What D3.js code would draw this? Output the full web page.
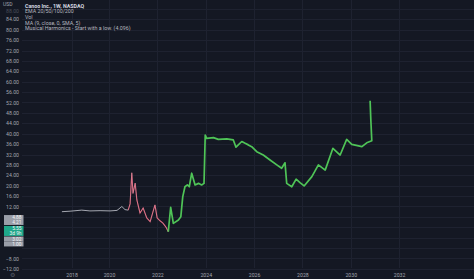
<!DOCTYPE html>
<html>
<head>
<meta charset="utf-8">
<script src="https://cdn.jsdelivr.net/npm/d3@7/dist/d3.min.js"></script>
<style>
  html, body { margin: 0; padding: 0; background: #141823; }
  svg { display: block; }
  text { font-family: Roboto, "Liberation Sans", sans-serif; }
</style>
</head>
<body>
<svg id="chart" width="474" height="279"></svg>
<script>
// price history (decimal year, close)
const priceYears = [2018.05, 2018.39, 2018.87, 2019.21, 2019.63, 2020.04, 2020.33, 2020.53, 2020.66, 2020.79,
  2020.87, 2020.94, 2020.99, 2021.08, 2021.15, 2021.28, 2021.41, 2021.56, 2021.70, 2021.90,
  2021.99, 2022.11, 2022.23, 2022.36, 2022.45];
const priceValues = [10, 10.2, 10.6, 10.3, 10.4, 10.3, 10.5, 12, 10.8, 10.6,
  13, 25, 17, 21, 14.5, 9.5, 11.4, 7.6, 6.2, 12.6,
  7.6, 6.5, 5.6, 4, 2.3];
// harmonics projection
const projYears = [2022.45, 2022.55, 2022.66, 2022.87, 2022.97, 2023.05, 2023.14, 2023.24, 2023.32, 2023.42,
  2023.56, 2023.70, 2023.83, 2023.93, 2023.98, 2024.04, 2024.32, 2024.52, 2024.87, 2025.14,
  2025.25, 2025.49, 2025.63, 2025.76, 2025.90, 2026.11, 2026.38, 2026.66, 2026.94, 2027.14,
  2027.28, 2027.35, 2027.56, 2027.74, 2027.90, 2028.07, 2028.39, 2028.66, 2028.94, 2029.26,
  2029.56, 2029.83, 2030.04, 2030.46, 2030.66, 2030.87, 2030.83, 2030.80];
const projValues = [2.3, 11.7, 5.5, 6.8, 8.1, 15.8, 19.6, 20.3, 19.6, 24.8,
  20.3, 20.9, 20.3, 20.9, 39.5, 38.2, 38.5, 37.8, 38, 37.6,
  34.8, 37, 36.3, 35.7, 35, 33.1, 31.8, 29.9, 28, 26.7,
  28.8, 20.9, 19.6, 22.5, 21.2, 19.9, 23.5, 28, 26, 34.4,
  31.8, 37.8, 35.9, 35, 36.5, 37.3, 45.3, 52.7];

const xTickYears = [2018.45, 2020, 2022, 2024, 2026, 2028, 2030, 2032];
const xTickLabels = ["2018", "2020", "2022", "2024", "2026", "2028", "2030", "2032"];
const yTicks = [88, 84, 80, 76, 72, 68, 64, 60, 56, 52, 48, 44, 40, 36, 32, 28, 24, 20, 16, 12, -8, -12];
const legendLines = ["Canoo Inc., 1W, NASDAQ", "EMA 20/50/100/200", "Vol", "MA (9, close, 0, SMA, 5)",
  "Musical Harmonics - Start with a low. (4.096)"];
// axis price tags: where they sit on the scale, and their text
const tagValues = [7.75, 5.85, 2.6, -0.5, -2.4];
const tagTexts = ["4.88", "4.21", "5.55", "3.02", "1.00"];

const svg = d3.select("#chart");
const W = 474, H = 279;

function yearToDate(y) {
  const yr = Math.floor(y);
  const start = new Date(yr, 0, 1), end = new Date(yr + 1, 0, 1);
  return new Date(start.getTime() + (y - yr) * (end - start));
}

const x = d3.scaleTime()
  .domain([new Date(2018, 0, 1), new Date(2032, 0, 1)])
  .range([60.7, 399.1]);
const y = d3.scaleLinear().domain([-12, 88]).range([268.9, 8.9]);

svg.append("rect").attr("width", W).attr("height", H).attr("fill", "#141823");

// grid
const grid = svg.append("g").attr("stroke", "#1e2230").attr("stroke-width", 1);
grid.selectAll("line.v").data(xTickYears).enter().append("line")
  .attr("x1", d => Math.round(x(yearToDate(d))) + 0.5)
  .attr("x2", d => Math.round(x(yearToDate(d))) + 0.5)
  .attr("y1", 0).attr("y2", 268);
grid.selectAll("line.h").data(d3.range(-12, 92, 4)).enter().append("line")
  .attr("x1", 22).attr("x2", W)
  .attr("y1", d => Math.round(y(d)) + 0.5)
  .attr("y2", d => Math.round(y(d)) + 0.5);

// y axis labels
const yAxis = d3.axisLeft(y).tickValues(yTicks).tickSize(0).tickFormat(d3.format(".2f"));
const yg = svg.append("g").attr("transform", "translate(19,0)").call(yAxis);
yg.select(".domain").remove();
yg.selectAll("text").attr("fill", "#a3a6af").attr("font-size", 5.2).attr("x", 0);
yg.selectAll(".tick").filter(d => d === 88).select("text")
  .attr("fill", "#4a4e5a").attr("dy", "0.7em");

svg.append("text").attr("x", 3).attr("y", 5.5).attr("fill", "#a3a6af")
  .attr("font-size", 5).text("USD");

// x axis labels
const xAxis = d3.axisBottom(x).tickValues(xTickYears.map(yearToDate)).tickSize(0)
  .tickFormat((d, i) => xTickLabels[i]);
const xg = svg.append("g").attr("transform", "translate(0,270)").call(xAxis);
xg.select(".domain").remove();
xg.selectAll("text").attr("fill", "#a3a6af").attr("font-size", 5.2);

// price line
const pricePts = priceYears.map((d, i) => [yearToDate(d), priceValues[i]]);
const line = d3.line().x(d => x(d[0])).y(d => y(d[1]));
svg.append("path").datum(pricePts.filter(d => d[0] <= yearToDate(2020.8)))
  .attr("fill", "none").attr("stroke", "#c9ccd4").attr("stroke-width", 0.8).attr("d", line);
svg.append("path").datum(pricePts.filter(d => d[0] >= yearToDate(2020.79)))
  .attr("fill", "none").attr("stroke", "#d45a72").attr("stroke-width", 1.1).attr("d", line);
svg.append("path").datum(pricePts.filter(d => d[0] >= yearToDate(2020.79)))
  .attr("fill", "none").attr("stroke", "#e8c9d0").attr("stroke-width", 0.4)
  .attr("stroke-opacity", 0.6).attr("d", line);

// projection line
const projPts = projYears.map((d, i) => [yearToDate(d), projValues[i]]);
svg.append("path").datum(projPts)
  .attr("fill", "none").attr("stroke", "#4fc457").attr("stroke-width", 1.7)
  .attr("stroke-linejoin", "round").attr("d", line);

// legend
const lg = svg.append("g");
lg.selectAll("text").data(legendLines).enter().append("text")
  .attr("x", 25).attr("y", (d, i) => 7.5 + i * 5.7)
  .attr("font-size", 5.3)
  .attr("fill", (d, i) => i === 0 ? "#d6d9e0" : "#b4b7bf")
  .attr("font-weight", (d, i) => i === 0 ? "bold" : "normal")
  .text(d => d);

// price tags on axis
const tags = svg.append("g");
tagValues.forEach((v, i) => {
  const cy = y(v);
  const green = tagTexts[i] === "5.55";
  const h = green ? 10 : 5;
  const top = green ? cy - 5 : cy - 2.5;
  tags.append("rect").attr("x", 4).attr("y", top).attr("width", 19.5).attr("height", h)
    .attr("fill", green ? "#1fa88a" : "#9a9ea8");
  tags.append("text").attr("x", 21.5).attr("y", green ? cy - 0.8 : cy + 1.8)
    .attr("text-anchor", "end").attr("font-size", 4.8).attr("fill", "#f2f3f5").text(tagTexts[i]);
  if (green) {
    tags.append("text").attr("x", 21.5).attr("y", cy + 4)
      .attr("text-anchor", "end").attr("font-size", 4.8).attr("fill", "#f2f3f5").text("3d 9h");
  }
});

// small settings glyph bottom-left
svg.append("text").attr("x", 12).attr("y", 277).attr("text-anchor", "middle")
  .attr("font-size", 6).attr("fill", "#555a66").text("⚙");
</script>
</body>
</html>
